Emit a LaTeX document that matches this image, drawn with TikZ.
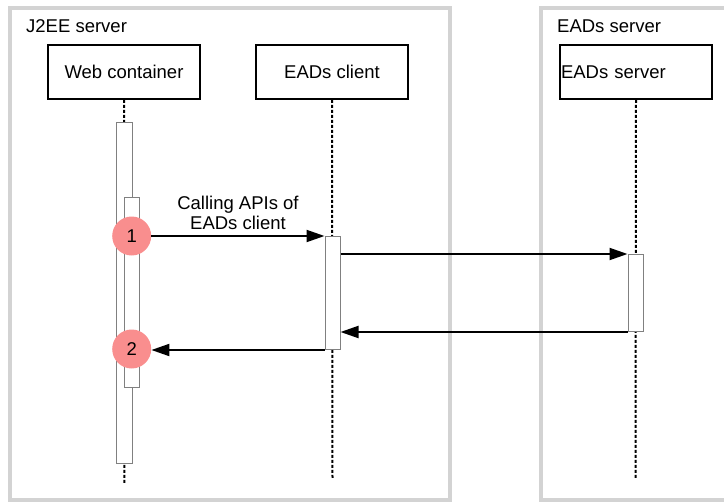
\documentclass[tikz,border=0pt]{standalone}
\usepackage{fontspec}
\setmainfont{Liberation Sans}
\usetikzlibrary{arrows.meta,positioning}
\definecolor{SeqGray}{HTML}{D3D3D3}
\definecolor{SeqBar}{HTML}{808080}
\definecolor{SeqMark}{HTML}{F98E8E}

\begin{document}
\begin{tikzpicture}[
    x=1pt,y=-1pt,
    font=\fontsize{18.5}{20}\selectfont,
    frame/.style={draw=SeqGray,line width=4.3pt},
    head/.style={draw,line width=1.8pt,minimum width=152pt,minimum height=54pt,inner sep=1pt},
    act/.style={draw=SeqBar,fill=white,line width=1pt,minimum width=15pt,inner sep=0pt,anchor=north},
    life/.style={dash pattern=on 3pt off 2pt,line width=2pt},
    stepmark/.style={circle,fill=SeqMark,minimum size=39pt,inner sep=0pt},
    arr/.style={-{Triangle[length=18pt,width=12pt]},line width=2pt}
  ]
    \useasboundingbox (0,0) rectangle (724,503);
    \clip (0,0) rectangle (724,503);
    % frames
    \draw[frame] (10,8) rectangle (450,500);
    \draw[frame] (541,8) rectangle (740,500);
    \node[anchor=west,inner sep=0pt] (jlabel) at (26,26) {J2EE server};
    \node[anchor=west,inner sep=0pt] (elabel) at (557,26) {EADs server};
    % heads
    \node[head] (web) at (124,72) {Web container};
    \node[head] (client) at (332,72) {EADs client};
    \node[head,text width=150pt,align=left] (server) at (636,72) {EADs server};
    % lifelines
    \coordinate (webend) at (124.5,484);
    \coordinate (clientend) at (332.5,478);
    \coordinate (serverend) at (635.5,478);
    \draw[life] (web.south) -- (webend);
    \draw[life] (client.south) -- (clientend);
    \draw[life] (server.south) -- (serverend);
    % activations
    \node[act,minimum width=16pt,minimum height=341pt] (webact) at (124.7,122) {};
    \node[act,minimum height=190pt] (webinner) at (131.8,197) {};
    \node[act,minimum height=113pt] (clientact) at (332.5,236) {};
    \node[act,minimum height=77pt] (serveract) at (635.5,254) {};
    % steps
    \node[stepmark] (n1) at (131.7,236) {1};
    \node[stepmark] (n2) at (131.7,349) {2};
    \node[align=center,inner sep=0pt] (call) at (238,213) {Calling APIs of\\EADs client};
    \draw[arr] (n1.east) -- (n1.east -| clientact.west);
    \draw[arr] (clientact.east |- serveract.north) -- (serveract.north west);
    \draw[arr] (serveract.south west) -- (clientact.east |- serveract.south);
    \draw[arr] (clientact.south west) -- (clientact.south west -| n2.east);
  \end{tikzpicture}
\end{document}
